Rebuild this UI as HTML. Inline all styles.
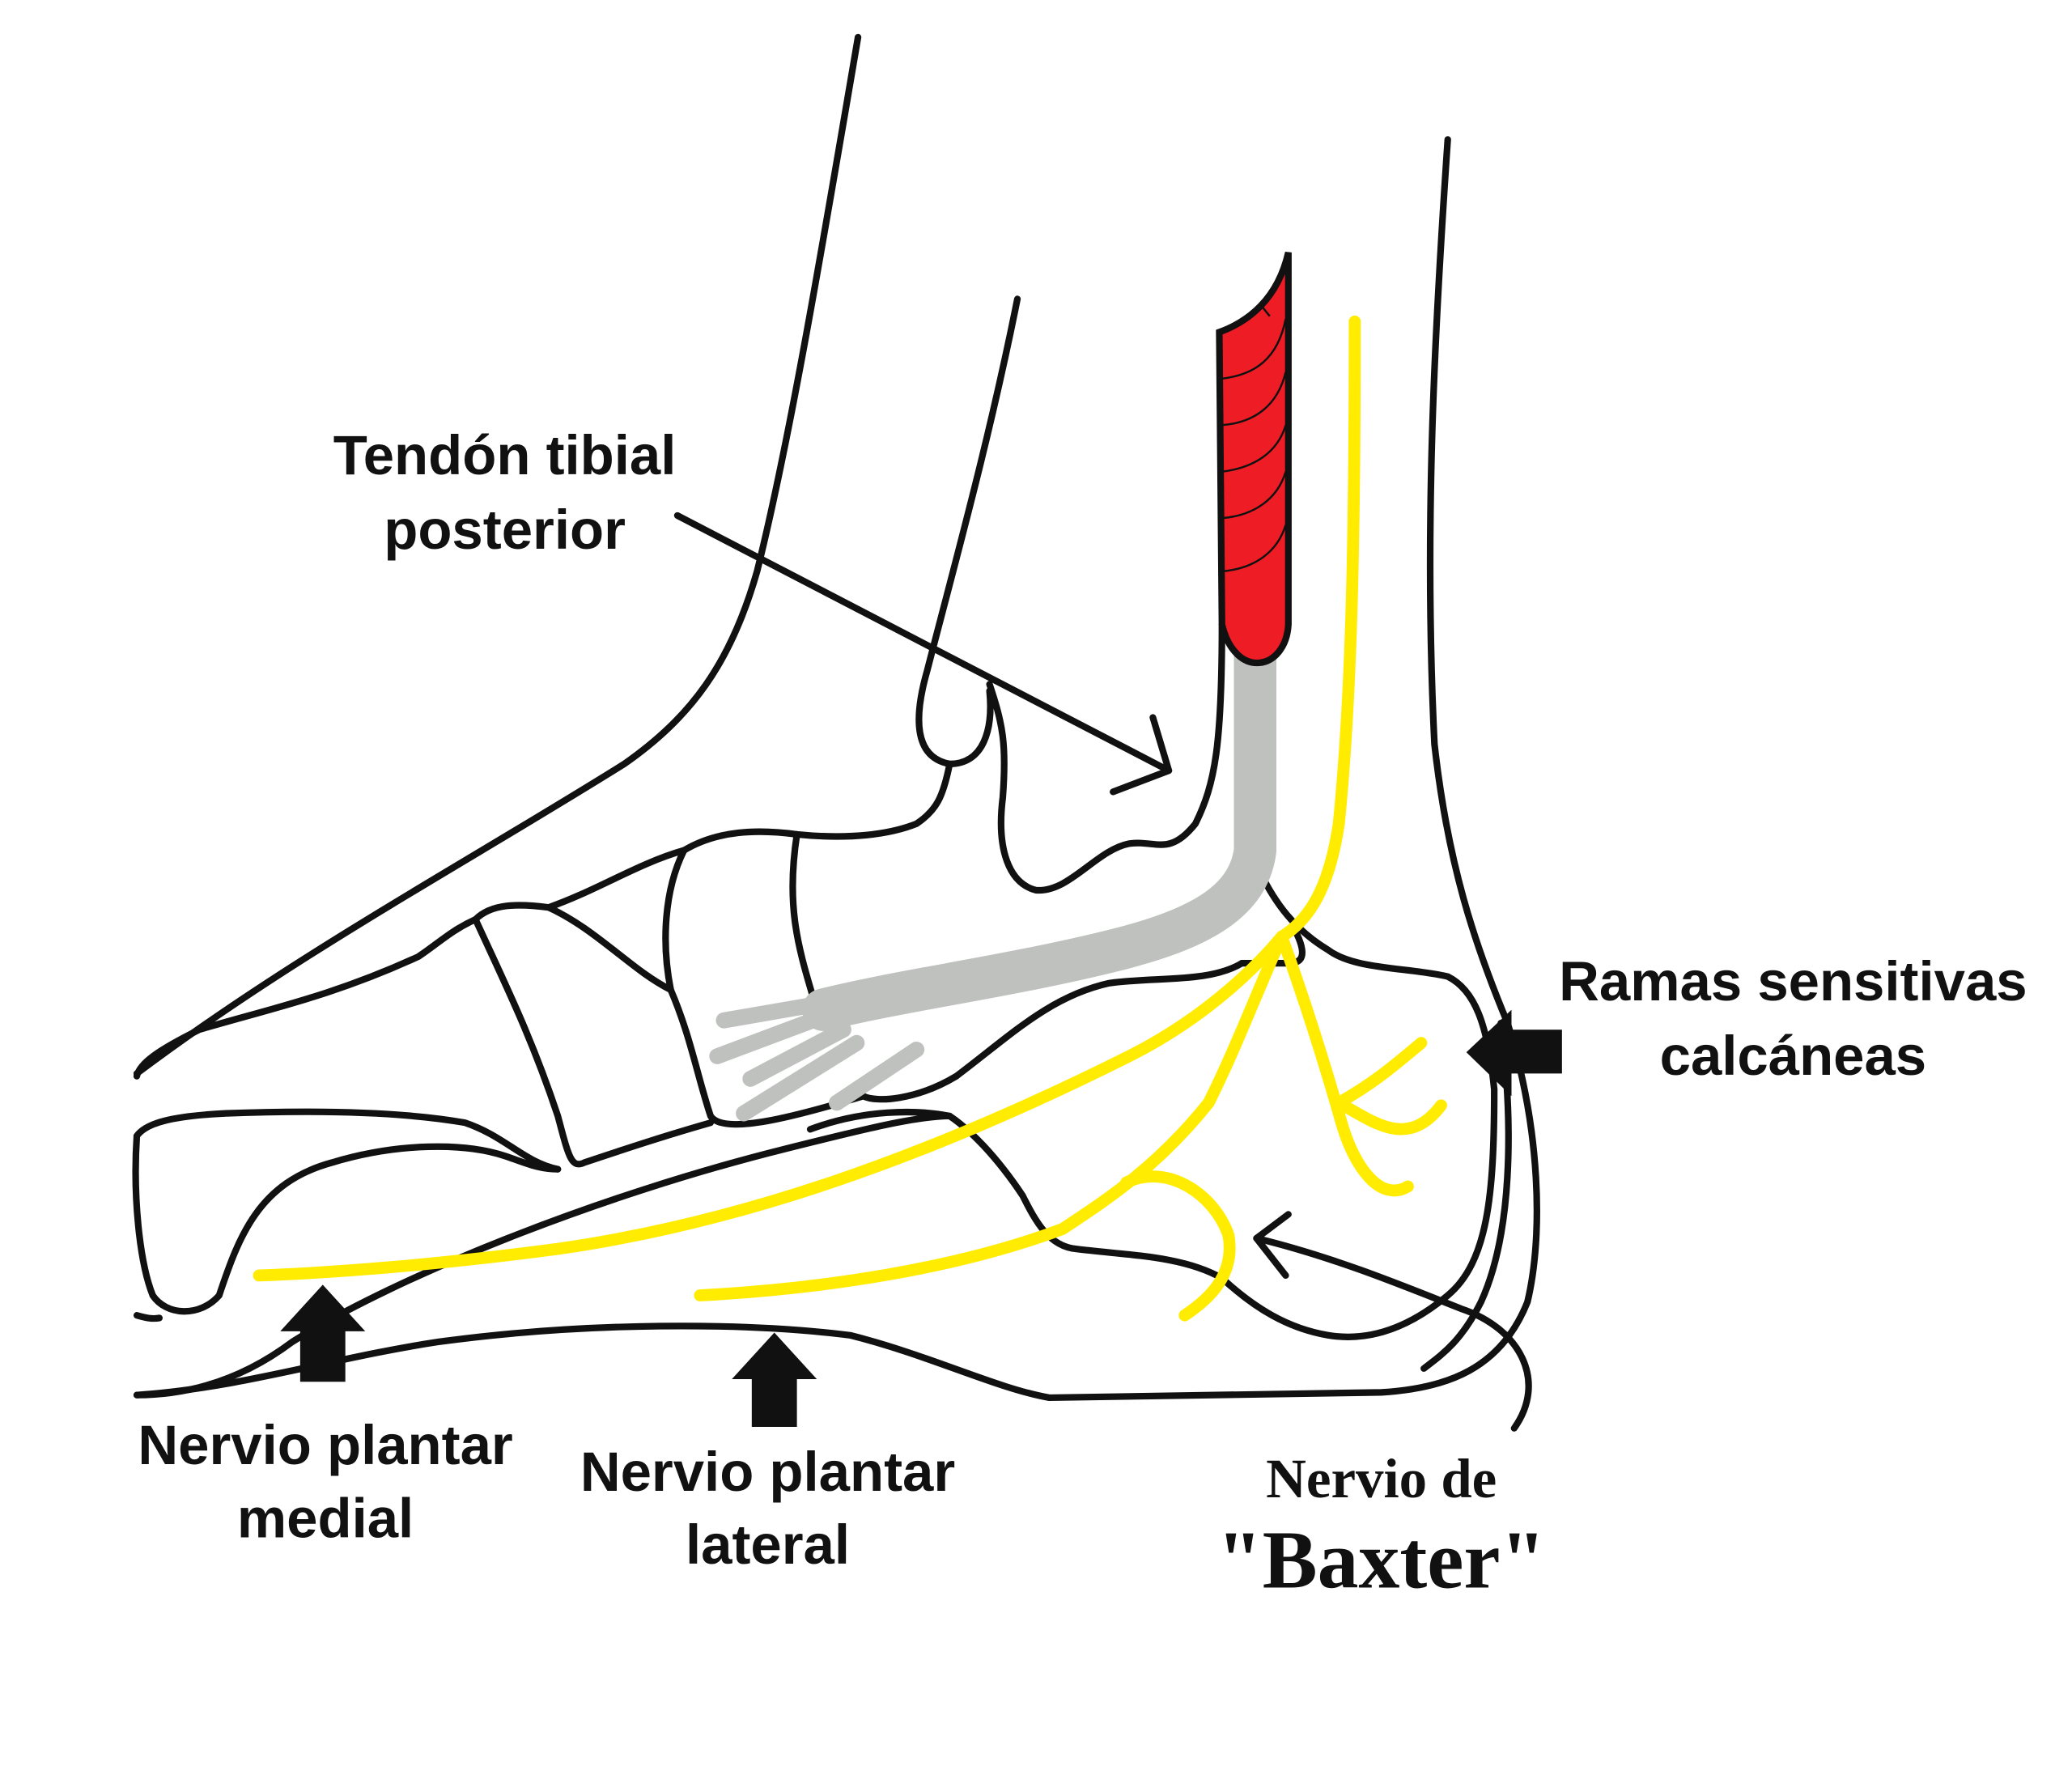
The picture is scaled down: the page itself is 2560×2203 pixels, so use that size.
<!DOCTYPE html>
<html><head><meta charset="utf-8"><style>
html,body{margin:0;padding:0;background:#fff;}
svg{display:block;}
text{font-family:"Liberation Sans",sans-serif;font-weight:bold;fill:#111;}
</style></head><body>
<svg width="2560" height="2203" viewBox="0 0 1560 1342" preserveAspectRatio="none" xmlns="http://www.w3.org/2000/svg">
<rect width="1560" height="1342" fill="#fff"/>
<g fill="none" stroke="#111" stroke-width="5" stroke-linecap="round" stroke-linejoin="round">
<!-- leg front -->
<path d="M646,28 C620,180 595,330 570,430 C550,500 520,540 470,575 C350,650 220,720 103,808"/>
<!-- leg back / heel / sole -->
<path d="M1090,105 C1080,250 1072,400 1080,560 C1090,650 1110,710 1135,770 C1160,850 1162,930 1150,980 C1130,1030 1090,1045 1040,1048 L790,1052 C750,1045 700,1020 640,1005 C560,995 440,995 330,1010 C250,1022 180,1045 103,1050"/>
<!-- tibia medial malleolus -->
<path d="M766,225 C745,330 720,420 698,505 C688,540 688,570 715,575 C740,575 748,550 745,520"/>
<!-- talus -->
<path d="M745,515 C755,545 758,560 755,600 C750,640 760,665 780,670 C805,672 825,640 850,635 C870,632 880,645 900,620 C915,590 920,560 920,470"/>
<path d="M715,575 C710,600 705,610 690,620 C670,628 640,632 600,628 C570,624 540,625 515,640"/>
<!-- navicular/cuneiform -->
<path d="M600,628 C592,680 600,710 612,750"/>
<path d="M515,640 C500,670 498,710 505,745 C520,780 525,810 535,840 C545,855 600,840 650,825"/>
<path d="M515,640 C480,650 450,670 413,683 C390,680 370,680 358,692"/>
<path d="M413,683 C450,700 475,730 505,745"/>
<path d="M358,692 C340,700 330,710 315,720 C250,750 200,760 150,775 C120,790 105,800 103,810"/>
<path d="M358,692 C380,740 400,780 420,840 C428,870 430,880 440,875 C470,865 500,855 535,845"/>
<!-- metatarsal/toe -->
<path d="M103,855 C110,845 130,840 170,838 C250,835 310,838 350,845 C380,855 395,875 420,880"/>
<path d="M103,855 C100,900 105,950 115,975 C125,990 150,992 165,975 C180,930 195,890 250,875 C300,860 350,860 380,870 C395,875 405,880 420,880"/>
<path d="M103,990 C110,992 115,993 120,992"/>
<!-- calcaneus -->
<path d="M948,655 C960,680 975,700 1000,715 C1020,730 1060,728 1090,735 C1110,745 1120,770 1125,820 C1125,900 1120,950 1090,975 C1060,1000 1030,1010 1000,1005 C970,1000 945,985 920,962 C890,945 850,945 810,940 C790,938 780,920 770,900 C750,870 730,850 715,840 C690,835 650,835 610,850"/>
<path d="M975,700 C985,720 980,725 970,725 L935,725"/>
<path d="M935,725 C910,740 870,735 835,740 C790,750 760,780 720,810 C690,828 660,830 650,825"/>
<path d="M1130,770 C1140,850 1138,930 1115,980 C1100,1010 1085,1020 1072,1030"/>
<path d="M103,1050 C140,1050 180,1040 220,1010 C300,960 450,900 590,865 C650,850 690,840 715,840"/>
<!-- tendon pointer arrow -->
<path d="M510,388 L880,580"/>
<path d="M868,540 L880,580 L838,596"/>
<!-- baxter arrow -->
<path d="M1140,1075 C1165,1040 1145,1000 1100,985 C1050,965 1000,945 946,932"/>
<path d="M970,914 L946,932 L968,960"/>
</g>
<!-- gray tendon -->
<g fill="none" stroke="#bfc1bf" stroke-linecap="round" stroke-linejoin="round">
<path d="M945,490 L945,640 C940,680 900,700 840,715 C760,735 680,745 620,760" stroke-width="32"/>
<path d="M620,755 L545,768" stroke-width="12"/>
<path d="M620,765 L540,795" stroke-width="12"/>
<path d="M635,775 L565,812" stroke-width="12"/>
<path d="M645,785 L560,838" stroke-width="12"/>
<path d="M690,790 L630,830" stroke-width="12"/>
</g>
<!-- red muscle -->
<path d="M918,250 C940,242 962,225 970,190 L970,470 C968,505 930,512 920,470 Z" fill="#ee1c25" stroke="#111" stroke-width="5"/>
<g fill="none" stroke="#111" stroke-width="1.5">
<path d="M920,285 C945,282 962,270 968,240"/><path d="M920,320 C945,318 962,305 968,280"/>
<path d="M920,355 C945,352 962,340 968,320"/><path d="M920,390 C945,388 962,375 968,355"/>
<path d="M920,430 C945,428 962,415 968,395"/><path d="M948,228 L956,238"/>
</g>
<!-- yellow nerves -->
<g fill="none" stroke="#ffec00" stroke-width="9" stroke-linecap="round" stroke-linejoin="round">
<path d="M1020,242 C1020,400 1018,520 1008,620 C1002,660 990,690 965,705 C940,735 900,770 850,795 C700,870 560,920 420,940 C330,952 250,958 195,960"/>
<path d="M965,705 C945,750 930,790 910,830 C870,880 830,905 800,925 C720,955 620,970 527,975"/>
<path d="M965,705 C985,760 1000,810 1010,845 C1020,880 1040,905 1060,893"/>
<path d="M1008,830 C1035,815 1052,800 1070,785"/>
<path d="M1008,830 C1035,845 1060,865 1085,832"/>
<path d="M848,890 C880,875 915,900 925,930 C930,960 910,978 892,990"/>
</g>
<!-- block arrows -->
<g fill="#111">
<path d="M243,967 L275,1002 L260,1002 L260,1040 L226,1040 L226,1002 L211,1002 Z"/>
<path d="M583,1003 L615,1038 L600,1038 L600,1074 L566,1074 L566,1038 L551,1038 Z"/>
<path d="M1104,792 L1138,760 L1138,775 L1176,775 L1176,808 L1138,808 L1138,825 Z"/>
</g>
<!-- labels -->
<g font-size="42" text-anchor="middle">
<text x="380" y="357">Tendón tibial</text>
<text x="380" y="413">posterior</text>
<text x="1350" y="753">Ramas sensitivas</text>
<text x="1350" y="809">calcáneas</text>
<text x="245" y="1102">Nervio plantar</text>
<text x="245" y="1157">medial</text>
<text x="578" y="1122">Nervio plantar</text>
<text x="578" y="1177">lateral</text>
</g>
<text x="1040" y="1127" font-size="42" text-anchor="middle" style="font-family:'Liberation Serif',serif">Nervio de</text>
<text x="1040" y="1195" font-size="62" text-anchor="middle" style="font-family:'Liberation Serif',serif">"Baxter"</text>
</svg>
</body></html>
